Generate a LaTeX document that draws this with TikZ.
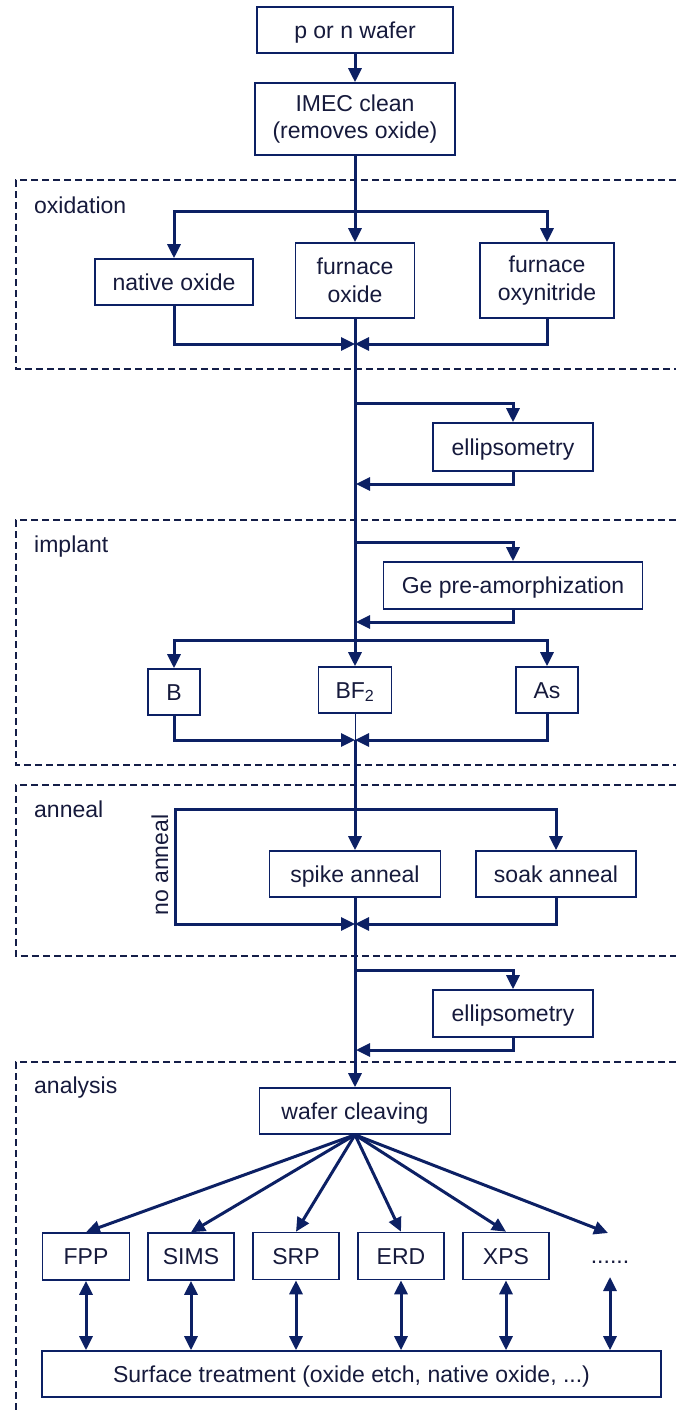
\documentclass[tikz,border=0pt]{standalone}
\usepackage{fontspec}
\setmainfont{Liberation Sans}
\usetikzlibrary{arrows.meta}
\definecolor{navy}{RGB}{12,32,100}
\definecolor{txt}{RGB}{22,26,60}
\definecolor{dashc}{RGB}{20,30,72}
\tikzset{
  box/.style={draw=navy, line width=1.6pt, fill=white, text=txt, inner sep=0pt,
    font=\fontsize{23}{27.5}\selectfont, align=center, minimum height=46pt},
  sbox/.style={box, text height=16.5pt, text depth=0pt},
  lbl/.style={text=txt, inner sep=0pt, font=\fontsize{23}{27.5}\selectfont},
  conn/.style={draw=navy, line width=3pt},
  arr/.style={conn, -{Triangle[length=14pt,width=13pt]}},
  darr/.style={conn, {Triangle[length=14pt,width=13pt]}-{Triangle[length=14pt,width=13pt]}},
  group/.style={draw=dashc, line width=2.4pt, dash pattern=on 7pt off 4pt},
}
\begin{document}
\begin{tikzpicture}[x=1pt,y=-1pt]
\useasboundingbox (0,0) rectangle (676,1411);

% dashed groups
\draw[group] (676,180) -- (16,180) -- (16,369) -- (676,369);
\draw[group] (676,520) -- (16,520) -- (16,765) -- (676,765);
\draw[group] (676,785) -- (16,785) -- (16,956) -- (676,956);
\draw[group] (676,1062) -- (16,1062) -- (16,1411);

\node[lbl, anchor=base west] (lox) at (34,213) {oxidation};
\node[lbl, anchor=base west] (limp) at (34,552) {implant};
\node[lbl, anchor=base west] (lann) at (34,817) {anneal};
\node[lbl, anchor=base west] (lana) at (34,1093) {analysis};

% boxes
\node[sbox, minimum width=196pt] (wafer) at (355,30) {p or n wafer};
\node[box, minimum width=200pt, minimum height=72pt] (imec) at (355,119) {IMEC clean\\(removes oxide)};
\node[sbox, minimum width=158pt] (nox) at (174,282) {native oxide};
\node[box, minimum width=119pt, minimum height=75pt] (fox) at (355,280.5) {furnace\\oxide};
\node[box, minimum width=134pt, minimum height=75pt] (fon) at (547,280.5) {furnace\\oxynitride};
\node[sbox, minimum width=160pt, minimum height=48pt] (ell1) at (513,447) {ellipsometry};
\node[sbox, minimum width=259pt, minimum height=47pt] (ge) at (513,585.5) {Ge pre-amorphization};
\node[sbox, minimum width=52pt] (b) at (174,692) {B};
\node[sbox, minimum width=73pt] (bf2) at (355,690) {BF\textsubscript{2}};
\node[sbox, minimum width=62pt] (as) at (547,690) {As};
\node[sbox, minimum width=171pt] (spike) at (355,874) {spike anneal};
\node[sbox, minimum width=160pt] (soak) at (556,874) {soak anneal};
\node[sbox, minimum width=160pt, minimum height=47pt] (ell2) at (513,1013.5) {ellipsometry};
\node[sbox, minimum width=191pt] (wc) at (355,1111) {wafer cleaving};
\node[sbox, minimum width=87pt, minimum height=47pt] (fpp) at (86,1256.5) {FPP};
\node[sbox, minimum width=86pt, minimum height=47pt] (sims) at (191,1256.5) {SIMS};
\node[sbox, minimum width=86pt, minimum height=47pt] (srp) at (296,1256) {SRP};
\node[sbox, minimum width=86pt, minimum height=47pt] (erd) at (401,1256) {ERD};
\node[sbox, minimum width=86pt, minimum height=47pt] (xps) at (506,1256) {XPS};
\node[lbl, anchor=base] (dots) at (610,1263) {......};
\node[sbox, minimum width=619pt] (st) at (351.5,1374) {Surface treatment (oxide etch, native oxide, ...)};
\node[lbl, rotate=90] (noann) at (160,865) {no anneal};

% coordinates
\coordinate (o1) at (355,211);
\coordinate (m1) at (355,344);
\coordinate (e1a) at (355,403);
\coordinate (e1b) at (356,484);
\coordinate (i1) at (355,542);
\coordinate (i2) at (356,622);
\coordinate (i3) at (355,640);
\coordinate (m3) at (355,740);
\coordinate (a1) at (355,809);
\coordinate (na) at (175,866);
\coordinate (m4) at (355,924);
\coordinate (e2a) at (355,970);
\coordinate (e2b) at (356,1050);
\coordinate (dtop) at (608,1233);
\coordinate (dbot) at (610,1277);

% connectors
\draw[arr] (wafer.south) -- (imec.north);
\draw[arr] (imec.south) -- (fox.north);
\draw[arr] (o1) -| (nox.north);
\draw[arr] (o1) -| (fon.north);
\draw[arr] (nox.south) |- (m1);
\draw[arr] (fon.south) |- (m1);
\draw[arr] (fox.south) -- (bf2.north);
\draw[arr] (e1a) -| (ell1.north);
\draw[arr] (ell1.south) |- (e1b);
\draw[arr] (i1) -| (ge.north);
\draw[arr] (ge.south) |- (i2);
\draw[arr] (i3) -| (b.north);
\draw[arr] (i3) -| (as.north);
\draw[arr] (b.south) |- (m3);
\draw[arr] (as.south) |- (m3);
\draw[draw=navy, line width=1pt] (bf2.south) -- (m3);
\draw[arr] (m3) -- (spike.north);
\draw[arr] (a1) -| (soak.north);
\draw[arr] (a1) -| (na) |- (m4);
\draw[arr] (soak.south) |- (m4);
\draw[arr] (spike.south) -- (wc.north);
\draw[arr] (e2a) -| (ell2.north);
\draw[arr] (ell2.south) |- (e2b);

\foreach \n in {fpp,sims,srp,erd,xps}{
  \draw[arr] (wc.south) -- (\n.north);
  \draw[darr] (\n.south) -- (\n.south |- st.north);
}
\draw[arr] (wc.south) -- (dtop);
\draw[darr] (dbot) -- (dbot |- st.north);
\end{tikzpicture}
\end{document}
